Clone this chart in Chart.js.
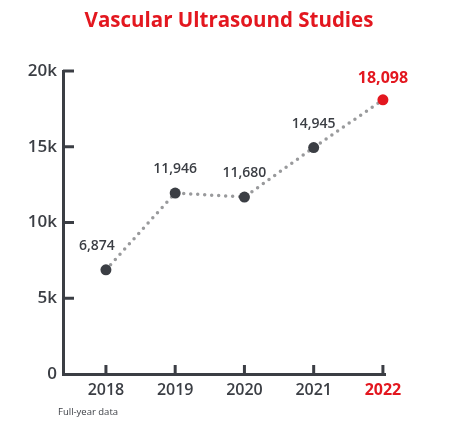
<!DOCTYPE html>
<html>
<head>
    <meta charset="utf-8">
    <script src="https://cdn.jsdelivr.net/npm/chart.js"></script>
    <style>
        body { margin: 0; background: #fff; }
        #wrap { width: 450px; height: 431px; }
    </style>
</head>
<body>
<div id="wrap"><canvas id="studiesChart" width="450" height="431"></canvas></div>
<script>
const years = [2018, 2019, 2020, 2021, 2022]
const studies = [6874, 11946, 11680, 14945, 18098]
const yTicks = [0, 5000, 10000, 15000, 20000]
const yTickLabels = ['0', '5k', '10k', '15k', '20k']

const dark = '#3b3e44'
const red = '#e3171f'
const font = '"Open Sans", Lato, sans-serif'

const extras = {
    id: 'extras',
    afterDraw(chart) {
        const ctx = chart.ctx
        const x = chart.scales.x
        const y = chart.scales.y
        ctx.save()
        // inward tick marks
        ctx.strokeStyle = dark
        ctx.lineWidth = 3
        yTicks.forEach(v => {
            const py = y.getPixelForValue(v)
            if (v === 0) return
            ctx.beginPath()
            ctx.moveTo(x.left, py)
            ctx.lineTo(x.left + 11, py)
            ctx.stroke()
        })
        years.forEach(v => {
            const px = x.getPixelForValue(v)
            ctx.beginPath()
            ctx.moveTo(px, y.bottom)
            ctx.lineTo(px, y.bottom - 9)
            ctx.stroke()
        })
        // value labels
        const meta = chart.getDatasetMeta(0)
        ctx.textAlign = 'center'
        ctx.textBaseline = 'middle'
        meta.data.forEach((pt, i) => {
            const last = i === studies.length - 1
            ctx.fillStyle = last ? red : dark
            ctx.font = (last ? '700 16px ' : '600 14px ') + font
            const dx = i === 0 ? -9 : 0
            ctx.fillText(studies[i].toLocaleString('en-US'), pt.x + dx, pt.y - (last ? 21 : 24))
        })
        // title and note
        ctx.fillStyle = red
        ctx.font = '700 20.5px ' + font
        ctx.fillText('Vascular Ultrasound Studies', 229, 21)
        ctx.fillStyle = dark
        ctx.font = '400 9.5px ' + font
        ctx.textAlign = 'left'
        ctx.fillText('Full-year data', 58, 412)
        ctx.restore()
    }
}

new Chart(document.getElementById('studiesChart'), {
    type: 'line',
    data: {
        datasets: [{
            label: 'Vascular Ultrasound Studies',
            data: years.map((yr, i) => ({ x: yr, y: studies[i] })),
            borderColor: '#999a9c',
            borderWidth: 3.5,
            borderDash: [0, 7],
            borderCapStyle: 'round',
            pointRadius: 5.5,
            pointHoverRadius: 5.5,
            pointBorderWidth: 0,
            pointBackgroundColor: studies.map((v, i) => i === studies.length - 1 ? red : dark),
            tension: 0,
            clip: false
        }]
    },
    plugins: [extras],
    options: {
        responsive: false,
        animation: false,
        layout: { padding: { top: 71, right: 65, left: 0, bottom: 0 } },
        plugins: { legend: { display: false }, tooltip: { enabled: false } },
        scales: {
            x: {
                type: 'linear',
                min: 2017.38,
                max: 2022.03,
                afterBuildTicks: s => { s.ticks = years.map(v => ({ value: v })) },
                afterFit: s => { s.height = 57 },
                grid: { display: false, drawTicks: false, tickLength: 0 },
                border: { display: true, color: dark, width: 3 },
                ticks: {
                    padding: 7,
                    color: c => c.tick && c.tick.value === 2022 ? red : dark,
                    font: c => ({ family: font, size: 16, weight: c.tick && c.tick.value === 2022 ? '700' : '600' }),
                    callback: v => String(v)
                }
            },
            y: {
                min: 0,
                max: 20000,
                afterBuildTicks: s => { s.ticks = yTicks.map(v => ({ value: v })) },
                afterFit: s => { s.width = 63 },
                grid: { display: false, drawTicks: false, tickLength: 0 },
                border: { display: true, color: dark, width: 3 },
                ticks: {
                    padding: 6,
                    color: dark,
                    font: { family: font, size: 17, weight: '600' },
                    callback: v => yTickLabels[yTicks.indexOf(v)]
                }
            }
        }
    }
})
</script>
</body>
</html>
